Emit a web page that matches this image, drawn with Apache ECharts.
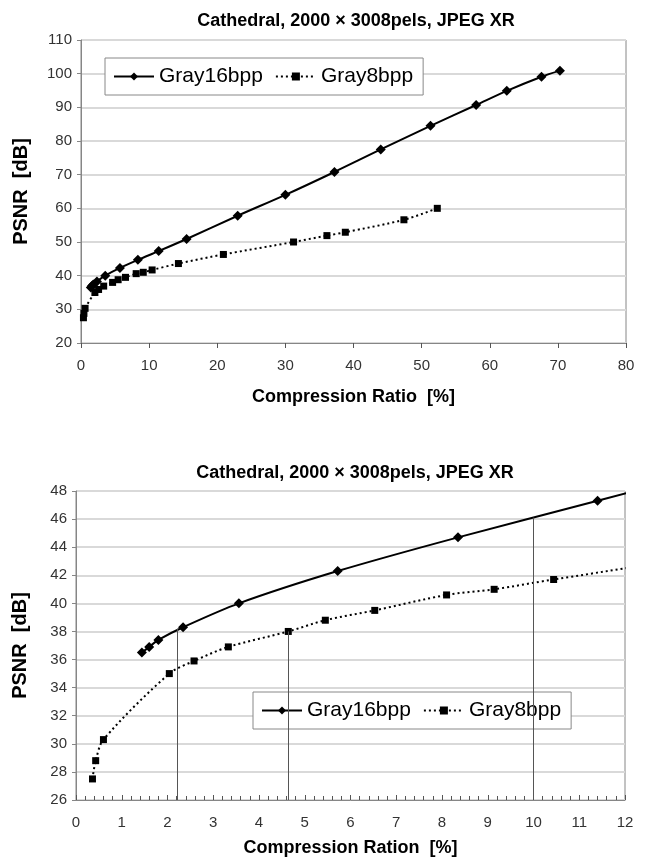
<!DOCTYPE html>
<html>
<head>
    <meta charset="UTF-8">
    <title>Cathedral JPEG XR</title>
    <script type="text/javascript" src="https://cdn.jsdelivr.net/npm/echarts@6/dist/echarts.min.js"></script>
    <style>
        body { margin: 0; background: #fff; }
        #charts { width: 646px; height: 860px; }
    </style>
</head>
<body>
<div id="charts"></div>
<script type="text/javascript">
    // compression ratio [%], PSNR [dB]
    var gray16 = [
        [1.44, 36.5], [1.60, 36.9], [1.80, 37.4], [2.34, 38.3], [3.56, 40.0],
        [5.72, 42.3], [8.35, 44.7], [11.40, 47.3], [15.5, 50.9], [23.0, 57.8],
        [30.0, 64.0], [37.2, 70.8], [44.0, 77.5], [51.3, 84.5], [58.0, 90.7],
        [62.5, 94.9], [67.6, 99.1], [70.3, 100.9]
    ];
    var gray8 = [
        [0.36, 27.5], [0.43, 28.8], [0.60, 30.3], [2.04, 35.0], [2.58, 35.9],
        [3.33, 36.9], [4.64, 38.0], [5.45, 38.8], [6.53, 39.5], [8.10, 40.6],
        [9.14, 41.0], [10.44, 41.7], [14.3, 43.6], [20.9, 46.3], [31.2, 50.0],
        [36.1, 51.9], [38.8, 52.9], [47.4, 56.6], [52.3, 60.0]
    ];
    // vertical guide lines in the zoomed chart: [x, top y]
    var guides = [[2.22, 38.2], [4.64, 38.0], [10.0, 46.1]];
    var seriesNames = ['Gray16bpp', 'Gray8bpp'];
    var titleText = 'Cathedral, 2000 \u00d7 3008pels, JPEG XR';

    var font = 'Liberation Sans';
    var axisColor = '#868686';

    var chart = echarts.init(document.getElementById('charts'), null, {renderer: 'canvas'});

    function xAxis(idx, min, max, step, name, gap, minor) {
        return {
            gridIndex: idx, type: 'value', min: min, max: max, interval: step,
            name: name, nameLocation: 'middle', nameGap: gap,
            nameTextStyle: {fontFamily: font, fontWeight: 'bold', fontSize: 18, color: '#000'},
            axisLine: {lineStyle: {color: axisColor, width: 1}},
            axisTick: {show: true, inside: minor, length: 5, lineStyle: {color: '#555'}},
            minorTick: {show: minor, splitNumber: 5, length: 4, lineStyle: {color: '#555'}},
            axisLabel: {fontFamily: font, fontSize: 15, color: '#333', margin: 15},
            splitLine: {show: false}
        };
    }

    function yAxis(idx, min, max, step, gap) {
        return {
            gridIndex: idx, type: 'value', min: min, max: max, interval: step,
            name: 'PSNR  [dB]', nameLocation: 'middle', nameGap: gap,
            nameTextStyle: {fontFamily: font, fontWeight: 'bold', fontSize: 20, color: '#000'},
            axisLine: {show: true, lineStyle: {color: axisColor, width: 1}},
            axisTick: {show: true, length: 4, lineStyle: {color: axisColor}},
            axisLabel: {fontFamily: font, fontSize: 15, color: '#333', margin: 9},
            splitLine: {show: true, lineStyle: {color: '#d9d9d9', width: 2}}
        };
    }

    function mkSeries(idx) {
        return [
            {
                name: seriesNames[0], type: 'line', xAxisIndex: idx, yAxisIndex: idx,
                data: gray16, smooth: 0.3, symbol: 'diamond', symbolSize: 10,
                lineStyle: {color: '#000', width: 2}, itemStyle: {color: '#000'},
                clip: true
            },
            {
                name: seriesNames[1], type: 'line', xAxisIndex: idx, yAxisIndex: idx,
                data: gray8, smooth: 0.3, symbol: 'rect', symbolSize: 7,
                lineStyle: {color: '#000', width: 2, type: [2, 3]}, itemStyle: {color: '#000'},
                clip: true
            }
        ];
    }

    var series = mkSeries(0).concat(mkSeries(1));
    series.push({
        name: 'guides', type: 'line', xAxisIndex: 1, yAxisIndex: 1, data: [], z: 10,
        markLine: {
            silent: true, symbol: ['none', 'none'], label: {show: false},
            lineStyle: {color: '#555', width: 1, type: 'solid'},
            data: guides.map(function (g) {
                return [{coord: [g[0], 26]}, {coord: [g[0], g[1]]}];
            })
        }
    });

    var legendStyle = {
        data: seriesNames, orient: 'horizontal', itemWidth: 40, itemHeight: 10, itemGap: 12,
        backgroundColor: '#fff', borderColor: '#888', borderWidth: 1, borderRadius: 0,
        padding: [8, 10, 8, 8],
        textStyle: {fontFamily: font, fontSize: 21, color: '#000'}
    };

    var option = {
        animation: false,
        backgroundColor: '#fff',
        title: [
            {text: titleText, left: 351, top: 7, textAlign: 'center',
                textStyle: {fontFamily: font, fontWeight: 'bold', fontSize: 18, color: '#000'}},
            {text: titleText, left: 350, top: 459, textAlign: 'center',
                textStyle: {fontFamily: font, fontWeight: 'bold', fontSize: 18, color: '#000'}}
        ],
        legend: [
            Object.assign({left: 105, top: 58}, legendStyle),
            Object.assign({left: 253, top: 692}, legendStyle)
        ],
        grid: [
            {left: 81, top: 40, width: 545, height: 303, show: true, borderColor: axisColor, borderWidth: 1},
            {left: 76, top: 491, width: 549, height: 309, show: true, borderColor: axisColor, borderWidth: 1}
        ],
        xAxis: [
            xAxis(0, 0, 80, 10, 'Compression Ratio  [%]', 45, false),
            xAxis(1, 0, 12, 1, 'Compression Ration  [%]', 39, true)
        ],
        yAxis: [
            yAxis(0, 20, 110, 10, 50),
            yAxis(1, 26, 48, 2, 46)
        ],
        series: series
    };

    chart.setOption(option);
</script>
</body>
</html>
